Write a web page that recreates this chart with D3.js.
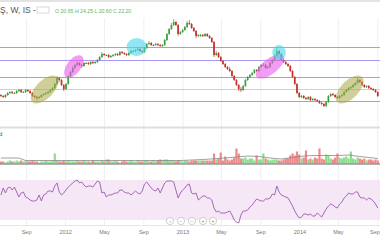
<!DOCTYPE html>
<html><head><meta charset="utf-8">
<script src="https://cdn.jsdelivr.net/npm/d3@7"></script>
<style>body{margin:0;background:#fff;overflow:hidden}svg{display:block;font-family:"Liberation Sans",Arial,sans-serif}</style>
</head><body><svg id="c" width="380" height="240"></svg>
<script>
// ---------- DATA ----------
const firstWeek = "2011-06-13";
const open = [22.25,22.0,21.75,22.25,22.75,23.0,22.75,22.75,23.25,23.5,
23.0,23.0,23.5,23.25,22.75,22.0,21.75,21.5,21.75,22.25,
22.5,22.75,23.0,23.5,24.0,25.0,26.5,26.0,24.75,23.75,
25.0,27.0,28.0,29.0,29.75,30.25,29.75,29.5,30.25,30.25,
30.0,30.5,30.25,30.5,31.0,31.75,32.5,32.25,32.25,31.75,
32.0,32.25,32.5,32.25,33.0,32.75,32.5,32.25,32.75,33.25,
33.25,33.5,33.75,33.25,33.0,34.0,35.0,35.25,34.75,34.75,
35.0,34.75,34.5,34.75,36.0,37.5,38.75,39.75,40.5,39.75,
37.5,38.0,38.5,39.25,40.25,40.0,39.0,38.25,37.0,37.25,
37.25,37.0,37.5,37.0,36.5,35.5,32.25,32.75,31.75,30.75,
30.0,29.25,28.75,28.25,27.0,26.0,24.75,23.75,23.5,24.5,
26.0,26.75,27.25,27.75,28.5,28.25,29.25,29.75,29.75,29.0,
29.25,30.25,31.0,32.0,33.25,32.5,31.0,30.5,30.0,29.5,
28.25,26.75,25.0,22.75,21.75,22.0,21.5,21.25,21.75,21.0,
21.25,21.0,20.75,20.25,20.0,19.5,20.5,22.0,22.5,22.25,
21.75,21.5,22.0,22.25,23.0,23.5,24.0,24.25,24.75,25.25,
26.0,25.5,24.75,24.25,24.5,24.0,23.75,23.5,23.0];
const high = [22.5,22.25,22.5,23.0,23.25,23.25,23.0,23.5,23.75,23.75,
23.25,23.75,23.75,23.5,23.0,22.25,22.0,22.0,22.5,22.75,
23.0,23.25,23.75,24.25,25.25,27.0,26.75,26.25,25.0,25.25,
27.25,28.25,29.5,30.0,30.75,30.5,30.0,30.5,30.5,30.5,
30.75,30.75,30.75,31.25,32.0,33.0,32.75,32.5,32.5,32.25,
32.5,32.75,32.75,33.25,33.25,33.0,32.75,33.0,33.5,33.5,
33.75,34.0,34.0,33.5,34.25,35.25,35.75,35.5,35.0,35.25,
35.25,35.0,35.0,36.25,37.75,39.0,40.25,41.25,40.75,40.0,
38.25,38.75,39.5,40.75,41.0,40.25,39.25,38.5,37.5,37.5,
37.5,37.75,37.75,37.25,36.75,35.75,33.25,33.0,32.0,31.0,
30.25,29.5,29.25,28.5,27.25,26.25,25.0,24.25,24.75,26.25,
27.0,27.5,28.0,28.75,28.75,29.5,30.0,30.25,30.0,29.5,
30.5,31.25,32.5,34.0,33.5,32.75,31.25,30.75,30.25,29.75,
28.5,27.0,25.25,23.0,22.25,22.25,21.75,22.0,22.0,21.5,
21.5,21.25,21.0,20.5,20.25,20.75,22.25,22.75,22.75,22.5,
22.0,22.25,22.5,23.25,23.75,24.25,24.5,25.0,25.5,26.5,
26.25,25.75,25.0,24.75,24.75,24.25,24.0,23.75,23.25];
const low = [21.75,21.5,21.5,22.0,22.5,22.5,22.5,22.5,23.0,22.75,
22.75,22.75,23.0,22.5,21.75,21.5,21.0,21.25,21.5,22.0,
22.25,22.5,22.75,23.25,23.75,24.75,25.5,24.5,23.25,23.5,
24.75,26.75,27.75,28.75,29.5,29.5,29.0,29.25,30.0,29.75,
29.75,30.0,30.0,30.25,30.75,31.5,32.0,32.0,31.5,31.5,
31.75,32.0,32.0,32.0,32.5,32.25,32.0,32.0,32.5,33.0,
33.0,33.25,33.0,32.75,32.75,33.75,34.75,34.5,34.5,34.5,
34.5,34.25,34.25,34.5,35.75,37.25,38.5,39.5,39.5,37.0,
37.25,37.75,38.25,39.0,39.75,38.75,38.0,36.5,36.75,36.75,
36.75,36.75,36.75,36.25,35.25,31.75,32.0,31.5,30.5,29.75,
29.0,28.5,28.0,26.75,25.75,24.5,23.25,23.0,23.25,24.25,
25.75,26.5,27.0,27.5,28.0,28.0,29.0,29.5,28.75,28.75,
29.0,30.0,30.75,31.75,32.25,30.75,30.25,29.75,29.25,28.0,
26.5,24.75,22.5,21.5,21.5,21.25,21.0,21.0,20.75,20.75,
20.75,20.5,20.0,19.75,19.25,19.25,20.25,21.75,22.0,21.5,
21.25,21.25,21.75,22.0,22.75,23.25,23.75,24.0,24.5,25.0,
25.25,24.5,24.0,24.0,23.75,23.5,23.25,22.75,21.75];
const close = [22.0,21.75,22.25,22.75,23.0,22.75,22.75,23.25,23.5,23.0,
23.0,23.5,23.25,22.75,22.0,21.75,21.5,21.75,22.25,22.5,
22.75,23.0,23.5,24.0,25.0,26.5,26.0,24.75,23.75,25.0,
27.0,28.0,29.0,29.75,30.25,29.75,29.5,30.25,30.25,30.0,
30.5,30.25,30.5,31.0,31.75,32.5,32.25,32.25,31.75,32.0,
32.25,32.5,32.25,33.0,32.75,32.5,32.25,32.75,33.25,33.25,
33.5,33.75,33.25,33.0,34.0,35.0,35.25,34.75,34.75,35.0,
34.75,34.5,34.75,36.0,37.5,38.75,39.75,40.5,39.75,37.5,
38.0,38.5,39.25,40.25,40.0,39.0,38.25,37.0,37.25,37.25,
37.0,37.5,37.0,36.5,35.5,32.25,32.75,31.75,30.75,30.0,
29.25,28.75,28.25,27.0,26.0,24.75,23.75,23.5,24.5,26.0,
26.75,27.25,27.75,28.5,28.25,29.25,29.75,29.75,29.0,29.25,
30.25,31.0,32.0,33.25,32.5,31.0,30.5,30.0,29.5,28.25,
26.75,25.0,22.75,21.75,22.0,21.5,21.25,21.75,21.0,21.25,
21.0,20.75,20.25,20.0,19.5,20.5,22.0,22.5,22.25,21.75,
21.5,22.0,22.25,23.0,23.5,24.0,24.25,24.75,25.25,26.0,
25.5,24.75,24.25,24.5,24.0,23.75,23.5,23.0,22.0];
// volume, millions
const volume = [0.2,0.2,0.1,0.2,0.3,0.2,0.2,0.3,0.2,0.3,
0.2,0.3,0.2,0.2,0.3,0.2,0.2,0.1,0.2,0.2,
0.3,0.2,0.2,0.3,1.0,0.3,0.2,0.2,0.3,0.2,
0.3,0.2,0.2,0.2,0.3,0.2,0.2,0.3,0.2,0.2,
0.2,0.3,0.2,0.2,0.2,0.3,0.2,0.4,0.4,0.2,
0.2,0.3,0.2,0.1,0.2,0.3,0.2,0.2,0.3,0.2,
0.2,0.3,0.2,0.2,0.3,0.3,0.2,0.2,0.3,0.2,
0.3,0.4,0.3,0.4,0.4,0.3,0.3,0.3,0.2,0.3,
0.3,0.2,0.3,0.3,0.2,0.3,0.3,0.3,0.3,0.3,
0.3,0.3,0.3,0.3,0.3,1.0,0.4,0.5,1.1,0.3,
0.7,0.4,0.3,0.4,0.6,1.5,1.0,0.5,0.5,0.6,
0.4,0.5,0.5,0.3,0.8,0.4,0.4,1.0,0.5,0.4,
0.3,0.4,0.4,0.4,0.3,0.3,0.4,0.5,0.5,0.8,
1.0,0.8,1.2,0.9,0.5,0.6,1.3,0.4,0.5,0.4,
0.6,0.5,1.5,0.5,0.4,0.9,0.8,0.5,0.4,0.6,
1.0,0.6,0.5,0.6,0.7,0.5,1.2,0.5,0.4,0.6,
0.5,0.4,0.5,0.3,0.4,0.4,0.3,0.4,0.3];
// volume moving average (read at selected weeks)
const volAvgWeek = [0,8,11,20,40,60,80,90,100,110,115,120,125,130,135,140,145,150,155,160,168];
const volAvg = [0.55,0.55,0.3,0.3,0.3,0.3,0.3,0.4,0.55,0.75,0.7,0.55,0.45,0.6,0.75,0.8,0.8,0.8,0.85,0.7,0.5];
const rsi = [55,62,57,62,63,60,63,58,53,57,
58,53,52,50,49,49,50,55,49,55,
56,59,59,58,64,67,58,55,57,60,
63,65,67,69,70,67,68,65,63,64,
64,63,66,69,68,57,58,53,55,55,
56,57,57,60,60,58,57,57,55,57,
59,57,56,59,66,68,65,62,60,59,
62,57,62,67,69,69,69,68,60,52,
57,60,62,65,66,57,56,57,50,52,
54,54,52,52,50,42,38,39,37,37,
37,38,39,35,30,28,27,35,39,39,
40,43,45,48,51,50,49,49,51,51,
52,56,55,64,58,55,54,53,52,48,
44,39,35,32,33,36,36,35,36,34,
34,37,35,33,37,41,44,46,45,43,
42,46,48,52,54,57,56,56,58,58,
53,52,52,50,52,51,49,46,42];
const levelsMain = [34.3, 31.1, 26.8, 20.8];
const levelsMinor = [23.7];
// highlighted patterns
const hlStart = [14, 29, 56, 114, 121, 150];
const hlEnd   = [25, 36, 65, 126, 127, 161];
const hlLow   = [20.5, 26.75, 32.0, 26.75, 31.0, 20.5];
const hlHigh  = [26.75, 32.0, 36.5, 32.0, 34.75, 26.75];
const hlKind  = ["olive","magenta","cyan","magenta","cyan","olive"];
const tickDates = ["2011-09-01","2012-01-01","2012-05-01","2012-09-01","2013-01-01","2013-05-01","2013-09-01","2014-01-01","2014-05-01","2014-09-01"];
const tickLabels = ["Sep","2012","May","Sep","2013","May","Sep","2014","May","Sep"];
const titleText = "Ş, W, IS -";
const ohlcText = "O 20.65 H 24.25 L 20.60 C 22.20";
const volLabel = "d";

// ---------- DRAW ----------
const W = 380, H = 240;
const svg = d3.select("#c");
const parse = d3.utcParse("%Y-%m-%d");
const weeks = d3.utcMonday.range(parse(firstWeek), d3.utcDay.offset(parse(firstWeek), 7*close.length));
const data = close.map((c,i)=>({d:weeks[i],o:open[i],h:high[i],l:low[i],c:c,v:volume[i],r:rsi[i]}));

const x = d3.scaleUtc().domain([parse("2011-06-10"), parse("2014-09-08")]).range([0, W]);
const y = d3.scaleLinear().domain([13, 43]).range([132, 12]);
const yv = d3.scaleLinear().domain([0, 3.5]).range([163.5, 128.5]);
const yr = d3.scaleLinear().domain([30, 70]).range([220, 180]);

const green = "#3c9f3c", red = "#c4302b";

svg.append("rect").attr("x",0).attr("y",0).attr("width",W).attr("height",2).attr("fill","#e3e3e3");

const tD = tickDates.map(parse);
svg.append("g").selectAll("line").data(tD).join("line")
  .attr("x1",d=>x(d)).attr("x2",d=>x(d)).attr("y1",18).attr("y2",226)
  .attr("stroke","#f0f0f0").attr("stroke-width",1);

svg.append("rect").attr("x",0).attr("y",yr(70)).attr("width",W).attr("height",yr(30)-yr(70)).attr("fill","#f6e7f6");

svg.append("g").selectAll("line").data(levelsMain).join("line")
  .attr("x1",0).attr("x2",W).attr("y1",d=>Math.round(y(d))+0.5).attr("y2",d=>Math.round(y(d))+0.5)
  .attr("stroke","#a99af0").attr("stroke-width",1.2);
svg.append("g").selectAll("line").data(levelsMinor).join("line")
  .attr("x1",0).attr("x2",W).attr("y1",d=>Math.round(y(d))+0.5).attr("y2",d=>Math.round(y(d))+0.5)
  .attr("stroke","#c8d8c0").attr("stroke-width",1);

const cw = 1.7;
const cg = svg.append("g");
cg.selectAll("line").data(data).join("line")
  .attr("x1",d=>x(d.d)).attr("x2",d=>x(d.d)).attr("y1",d=>y(d.h)).attr("y2",d=>y(d.l))
  .attr("stroke",d=>d.c>=d.o?green:red).attr("stroke-width",0.7);
cg.selectAll("rect").data(data).join("rect")
  .attr("x",d=>x(d.d)-cw/2).attr("width",cw)
  .attr("y",d=>y(Math.max(d.o,d.c)))
  .attr("height",d=>Math.max(1, Math.abs(y(d.o)-y(d.c))))
  .attr("fill",d=>d.c>=d.o?green:red);

const hlColor = {olive:"rgba(170,165,70,0.55)", magenta:"rgba(235,90,235,0.6)", cyan:"rgba(70,215,235,0.6)"};
const hg = svg.append("g");
hlStart.forEach((s,i)=>{
  const x0 = x(weeks[s]), x1 = x(weeks[hlEnd[i]]);
  const y0 = y(hlHigh[i]), y1 = y(hlLow[i]);
  const cx = (x0+x1)/2, cy = (y0+y1)/2;
  const dx = x1-x0, dy = y1-y0;
  const isC = hlKind[i]==="cyan";
  const tilt = isC ? 0 : -Math.atan2(dy, dx)*180/Math.PI;
  const rx = isC ? dx/2 : Math.hypot(dx,dy)/2;
  const ry = isC ? dy/2 : Math.max(7, Math.min(dx,dy)*0.36);
  hg.append("ellipse").attr("cx",cx).attr("cy",cy).attr("rx",rx).attr("ry",ry)
    .attr("transform",`rotate(${tilt},${cx},${cy})`).attr("fill",hlColor[hlKind[i]]);
});

svg.append("rect").attr("x",0).attr("y",126.5).attr("width",W).attr("height",2).attr("fill","#dedede");

svg.append("g").selectAll("rect").data(data).join("rect")
  .attr("x",d=>x(d.d)-1.1).attr("width",2.2)
  .attr("y",d=>yv(d.v)).attr("height",d=>yv(0)-yv(d.v))
  .attr("fill",d=>d.c>=d.o?"#8fdc8f":"#ee8a8a");
svg.append("path").datum(volAvgWeek.map((w,i)=>[weeks[w],volAvg[i]]))
  .attr("d",d3.line().x(d=>x(d[0])).y(d=>yv(d[1])))
  .attr("fill","none").attr("stroke","#888").attr("stroke-width",0.8);
svg.append("line").attr("x1",0).attr("x2",W).attr("y1",164).attr("y2",164).attr("stroke","#666").attr("stroke-width",1);
svg.append("text").attr("x",-1).attr("y",136).attr("font-size",6).attr("fill","#555").text(volLabel);

svg.append("path").datum(data)
  .attr("d",d3.line().x(d=>x(d.d)).y(d=>yr(d.r)))
  .attr("fill","none").attr("stroke","#a468b8").attr("stroke-width",1);

svg.append("line").attr("x1",0).attr("x2",W).attr("y1",225.5).attr("y2",225.5).attr("stroke","#e6e6e6");
svg.append("g").selectAll("text").data(tD).join("text")
  .attr("x",d=>Math.min(x(d), W-5)).attr("y",234).attr("text-anchor","middle")
  .attr("font-size",5.5).attr("fill","#777").text((d,i)=>tickLabels[i]);

const btn = svg.append("g");
[170,181,192,203,213].forEach((bx,i)=>{
  btn.append("circle").attr("cx",bx).attr("cy",221).attr("r",3.6).attr("fill","#fff").attr("stroke","#bbb").attr("stroke-width",0.7);
  btn.append("text").attr("x",bx).attr("y",223).attr("text-anchor","middle").attr("font-size",5).attr("fill","#888").text(["‹","−","−","+","+"][i]);
});

svg.append("text").attr("x",0).attr("y",13).attr("font-size",8.5).attr("fill","#555").text(titleText);
svg.append("rect").attr("x",37).attr("y",7).attr("width",12).attr("height",6).attr("fill","none").attr("stroke","#d0d0d0").attr("stroke-width",0.8);
svg.append("text").attr("x",55).attr("y",12.5).attr("font-size",5.2).attr("fill","#5cb85c").text(ohlcText);
</script></body></html>
